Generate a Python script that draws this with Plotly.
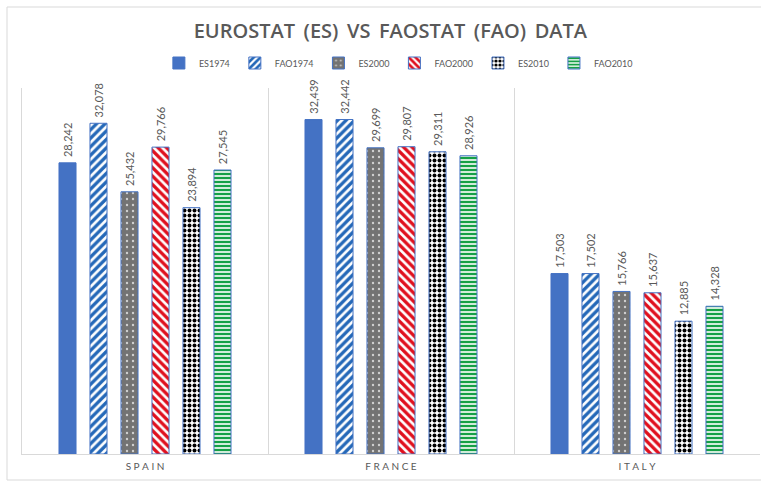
import plotly.graph_objects as go

countries = ["SPAIN", "FRANCE", "ITALY"]
series_names = ["ES1974", "FAO1974", "ES2000", "FAO2000", "ES2010", "FAO2010"]
es1974 = [28.242, 32.439, 17.503]
fao1974 = [32.078, 32.442, 17.502]
es2000 = [25.432, 29.699, 15.766]
fao2000 = [29.766, 29.807, 15.637]
es2010 = [23.894, 29.311, 12.885]
fao2010 = [27.545, 28.926, 14.328]
series_values = [es1974, fao1974, es2000, fao2000, es2010, fao2010]

BLUE = "#4472C4"
patterns = [
    dict(shape="", fgcolor=BLUE, bgcolor=BLUE),
    dict(shape="/", fgcolor="#2468B8", bgcolor="white", size=6, solidity=0.55, fgopacity=1),
    dict(shape=".", fgcolor="#D0D0D0", bgcolor="#737373", size=6, solidity=0.12, fgopacity=1),
    dict(shape="\\", fgcolor="#E0101E", bgcolor="white", size=6, solidity=0.55, fgopacity=1),
    dict(shape=".", fgcolor="#000000", bgcolor="white", size=5, solidity=0.5, fgopacity=1),
    dict(shape="-", fgcolor="#15A045", bgcolor="white", size=4, solidity=0.6, fgopacity=1),
]

def fmt(v):
    return "\u00a0" + f"{v:.3f}".replace(".", ",")

fig = go.Figure()
for name, vals, pat in zip(series_names, series_values, patterns):
    fig.add_trace(go.Bar(
        name=name, x=countries, y=vals,
        text=[fmt(v) for v in vals],
        textposition="outside", textangle=-90,
        textfont=dict(family="Lato, Open Sans, sans-serif", size=11, color="#595959"),
        constraintext="none", cliponaxis=False,
        marker=dict(color=BLUE, line=dict(color=BLUE, width=1), pattern=pat),
    ))

spaced = ["\u2009\u2009".join(list(c)) for c in countries]

# outer chart border
fig.add_shape(type="rect", xref="paper", yref="paper",
              x0=(7 - 22) / 738, x1=1.05, y0=(454 - 480) / 366, y1=(454 - 7) / 366,
              line=dict(color="#D9D9D9", width=1), fillcolor="rgba(0,0,0,0)", layer="below")

fig.update_layout(
    width=761, height=482,
    margin=dict(l=22, r=1, t=88, b=28),
    paper_bgcolor="white", plot_bgcolor="white",
    barmode="group", bargap=0.244, bargroupgap=0.45,
    title=dict(text="EUROSTAT\u2009 (ES)\u2009 VS\u2009 FAOSTAT\u2009 (FAO)\u2009 DATA",
               x=0.513, xanchor="center", y=0.935, yanchor="middle",
               font=dict(family="Open Sans, sans-serif", size=20, color="#595959", weight=600)),
    legend=dict(orientation="h", x=0.51, xanchor="center", y=(454 - 63) / 366, yanchor="middle",
                font=dict(family="Lato, sans-serif", size=9, color="#595959"),
                itemwidth=30, tracegroupgap=0, bgcolor="rgba(0,0,0,0)"),
    xaxis=dict(type="category", tickson="boundaries", showgrid=True, gridcolor="#D9D9D9",
               showline=True, linecolor="#D9D9D9", ticks="", mirror=False,
               tickvals=countries, ticktext=spaced, ticklabelstandoff=3,
               tickfont=dict(family="Lato, sans-serif", size=10, color="#595959")),
    yaxis=dict(range=[0, 35.5], showgrid=False, showticklabels=False, zeroline=False,
               showline=True, linecolor="#D9D9D9", ticks=""),
    showlegend=True,
)

fig.write_html("out.html")
